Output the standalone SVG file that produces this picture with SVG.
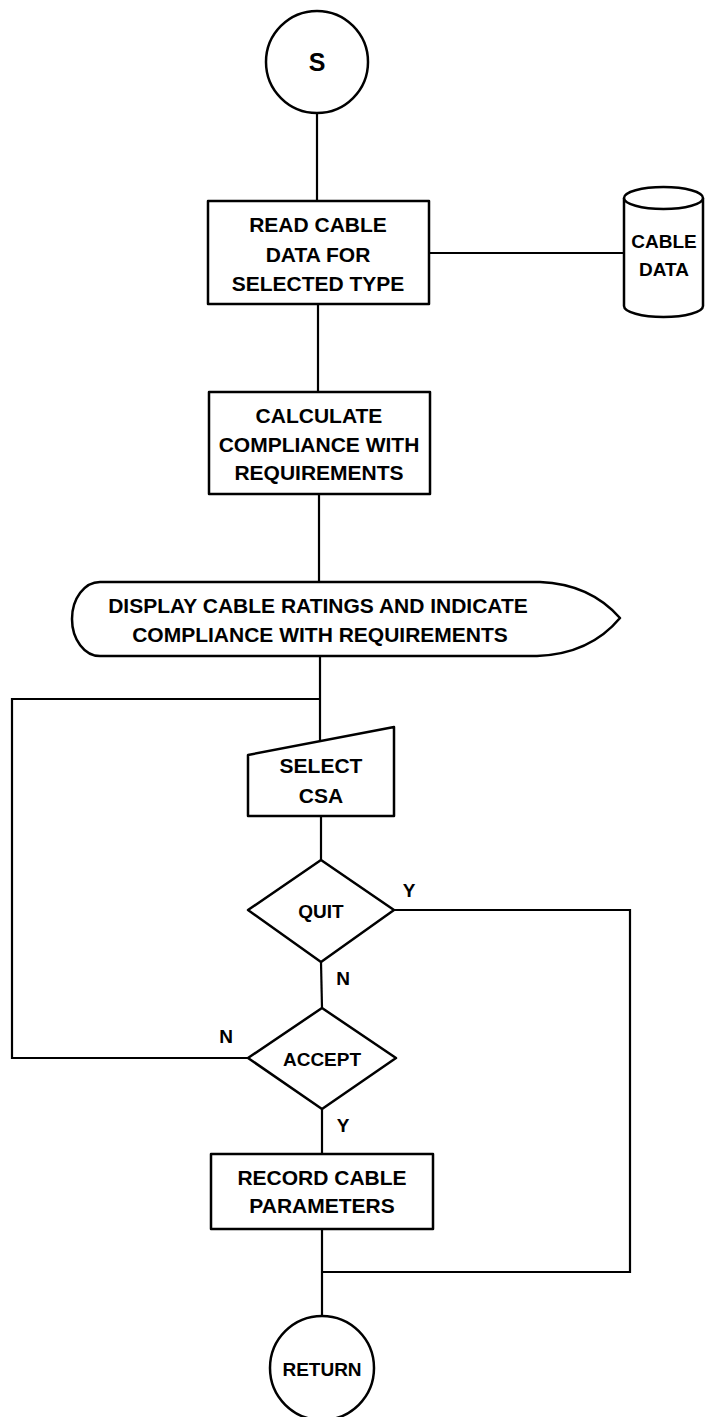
<svg xmlns="http://www.w3.org/2000/svg" width="706" height="1417" viewBox="0 0 706 1417">
  <style>
    .shape { fill: #ffffff; stroke: #000000; stroke-width: 2.5; stroke-linejoin: round; }
    .wire { fill: none; stroke: #000000; stroke-width: 2.2; }
    .lbl { font-family: "Liberation Sans", Arial, sans-serif; font-weight: bold; font-size: 21px; fill: #000000; text-anchor: middle; }
    .big { font-size: 25px; }
    .small { font-size: 19px; }
  </style>
  <rect width="706" height="1417" fill="#ffffff"/>

  <!-- connectors -->
  <g id="connectors" class="wire">
    <line x1="317" y1="113" x2="317" y2="201"/>
    <line x1="429" y1="253" x2="624" y2="253"/>
    <line x1="318" y1="304" x2="318" y2="392"/>
    <line x1="319" y1="494" x2="319" y2="582"/>
    <line x1="320" y1="656" x2="320" y2="742"/>
    <polyline points="320,699 12,699 12,1058 248,1058"/>
    <line x1="321" y1="816" x2="321" y2="860"/>
    <polyline points="394,910 630,910 630,1272 322,1272"/>
    <line x1="321" y1="962" x2="322" y2="1008"/>
    <line x1="322" y1="1109" x2="322" y2="1154"/>
    <line x1="322" y1="1229" x2="322" y2="1316"/>
  </g>

  <!-- branch labels -->
  <g id="branch-labels">
    <text class="lbl small" x="409" y="897">Y</text>
    <text class="lbl small" x="343" y="985">N</text>
    <text class="lbl small" x="226" y="1043">N</text>
    <text class="lbl small" x="343" y="1132">Y</text>
  </g>

  <!-- start terminal -->
  <g id="start">
    <circle class="shape" cx="317" cy="62" r="51"/>
    <text class="lbl big" x="317" y="71">S</text>
  </g>

  <!-- read cable data -->
  <g id="read-cable">
    <rect class="shape" x="208" y="201" width="221" height="103"/>
    <text class="lbl" x="318" y="232">READ CABLE</text>
    <text class="lbl" x="318" y="262">DATA FOR</text>
    <text class="lbl" x="318" y="291">SELECTED TYPE</text>
  </g>

  <!-- stored cable data -->
  <g id="cable-data">
    <path class="shape" d="M624 198 V306 A39.5 11 0 0 0 703 306 V198"/>
    <ellipse class="shape" cx="663.5" cy="198" rx="39.5" ry="11"/>
    <text class="lbl small" x="664" y="248">CABLE</text>
    <text class="lbl small" x="664" y="276">DATA</text>
  </g>

  <!-- calculate compliance -->
  <g id="calculate">
    <rect class="shape" x="209" y="392" width="221" height="102"/>
    <text class="lbl" x="319" y="423">CALCULATE</text>
    <text class="lbl" x="319" y="452">COMPLIANCE WITH</text>
    <text class="lbl" x="319" y="480">REQUIREMENTS</text>
  </g>

  <!-- display ratings -->
  <g id="display">
    <path class="shape" d="M100 582 H540 Q590 584 620 618 Q590 654 537 656 H100 A28 37 0 0 1 100 582 Z"/>
    <text class="lbl" x="318" y="613">DISPLAY CABLE RATINGS AND INDICATE</text>
    <text class="lbl" x="320" y="642">COMPLIANCE WITH REQUIREMENTS</text>
  </g>

  <!-- manual input -->
  <g id="select-csa">
    <polygon class="shape" points="248,755 394,727 394,816 248,816"/>
    <text class="lbl" x="321" y="773">SELECT</text>
    <text class="lbl" x="321" y="803">CSA</text>
  </g>

  <!-- quit decision -->
  <g id="quit">
    <polygon class="shape" points="321,860 394,910 321,962 248,910"/>
    <text class="lbl small" x="321" y="918">QUIT</text>
  </g>

  <!-- accept decision -->
  <g id="accept">
    <polygon class="shape" points="322,1008 396,1058 322,1109 248,1058"/>
    <text class="lbl small" x="322" y="1066">ACCEPT</text>
  </g>

  <!-- record parameters -->
  <g id="record">
    <rect class="shape" x="211" y="1154" width="222" height="75"/>
    <text class="lbl" x="322" y="1185">RECORD CABLE</text>
    <text class="lbl" x="322" y="1213">PARAMETERS</text>
  </g>

  <!-- end terminal -->
  <g id="return">
    <circle class="shape" cx="322" cy="1368" r="52"/>
    <text class="lbl small" x="322" y="1376">RETURN</text>
  </g>
</svg>
